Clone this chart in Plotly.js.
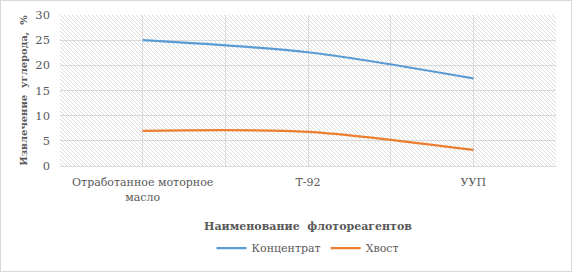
<!DOCTYPE html>
<html>
<head>
<meta charset="utf-8">
<script src="https://cdn.plot.ly/plotly-3.0.1.min.js"></script>
<style>
  html, body { margin: 0; padding: 0; background: #ffffff; }
  #wrap { position: relative; width: 572px; height: 272px; }
  #frame { position: absolute; left: 0; top: 0; width: 570px; height: 270px; border: 1px solid #d9d9d9; pointer-events: none; z-index: 3; }
  #hatch { position: absolute; left: 60px; top: 15px; width: 496px; height: 151px; z-index: 0;
    background-color: #ffffff;
    background-image: url("data:image/svg+xml,%3Csvg xmlns='http://www.w3.org/2000/svg' width='4' height='4'%3E%3Cpath d='M0,0 L4,4 M-1,3 L1,5 M3,-1 L5,1' stroke='%23d4d4d4' stroke-width='0.8'/%3E%3C/svg%3E");
    background-size: 4px 4px; }
  #chart { position: absolute; left: 0; top: 0; width: 572px; height: 272px; z-index: 1; }
</style>
</head>
<body>
<div id="wrap">
  <div id="hatch"></div>
  <div id="chart"></div>
  <div id="frame"></div>
</div>
<script>
// Data
const categories = ["Отработанное моторное<br>масло", "Т-92", "УУП"];
const concentrate = [25.0, 22.6, 17.4];
const tail = [7.0, 6.8, 3.2];
const seriesNames = ["Концентрат", "Хвост"];
const yTitle = "Извлечение  углерода,  %";
const xTitle = "Наименование  флотореагентов";
const yTicks = [0, 5, 10, 15, 20, 25, 30];

const xPos = categories.map((_, i) => i);
// grid every half category, labels on categories
const gridVals = [];
const gridText = [];
for (let v = -0.5; v <= categories.length - 0.5 + 1e-9; v += 0.5) {
  gridVals.push(v);
  const idx = Math.round(v);
  gridText.push(Math.abs(v - idx) < 1e-9 ? categories[idx] : "");
}

const font = "DejaVu Serif";
const gray = "#595959";

const traces = [
  { x: xPos, y: concentrate, name: seriesNames[0], type: "scatter", mode: "lines",
    line: { color: "#5b9bd5", width: 2.25, shape: "spline", smoothing: 0.8 } },
  { x: xPos, y: tail, name: seriesNames[1], type: "scatter", mode: "lines",
    line: { color: "#ed7d31", width: 2.25, shape: "spline", smoothing: 0.8 } }
];

const layout = {
  width: 572, height: 272,
  margin: { l: 60, r: 16, t: 15, b: 106 },
  paper_bgcolor: "rgba(0,0,0,0)",
  plot_bgcolor: "rgba(0,0,0,0)",
  font: { family: font, color: gray, size: 11 },
  showlegend: true,
  xaxis: {
    range: [-0.5, categories.length - 0.5],
    tickmode: "array", tickvals: gridVals, ticktext: gridText,
    showgrid: true, gridcolor: "#d9d9d9", gridwidth: 1,
    zeroline: false, showline: true, linecolor: "#d9d9d9", linewidth: 1,
    ticks: "", tickangle: 0, ticklabelstandoff: 6,
    tickfont: { family: font, size: 11, color: gray },
    title: { text: xTitle, font: { family: font, size: 11, color: gray, weight: "bold" }, standoff: 22 },
    fixedrange: true
  },
  yaxis: {
    range: [0, 30],
    tickmode: "array", tickvals: yTicks,
    showgrid: true, gridcolor: "#d9d9d9", gridwidth: 1,
    zeroline: false, showline: false,
    ticks: "", ticklabelstandoff: 9,
    tickfont: { family: font, size: 11.5, color: gray },
    title: { text: yTitle, font: { family: font, size: 10, color: gray, weight: "bold" }, standoff: 5 },
    fixedrange: true
  },
  legend: {
    orientation: "h", x: 0.5, xanchor: "center",
    yref: "container", y: 1 - 248 / 272, yanchor: "middle",
    font: { family: font, size: 11, color: gray },
    bgcolor: "rgba(0,0,0,0)", itemwidth: 30, tracegroupgap: 0
  }
};

Plotly.newPlot("chart", traces, layout, { staticPlot: true, displayModeBar: false });
</script>
</body>
</html>
